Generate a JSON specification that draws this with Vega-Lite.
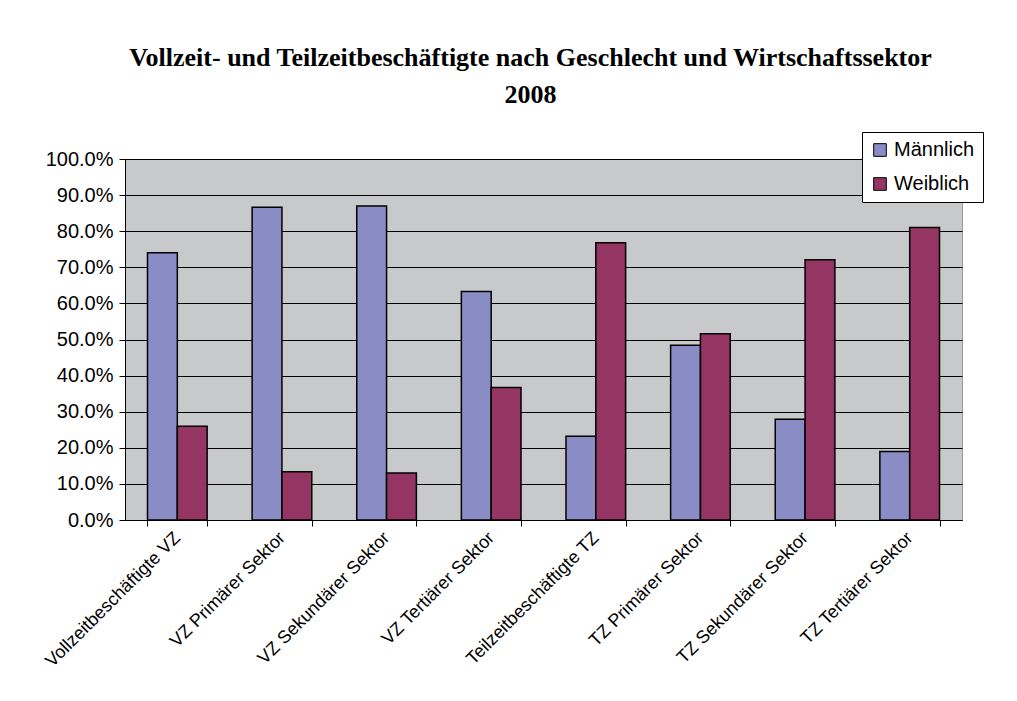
{
  "$schema": "https://vega.github.io/schema/vega-lite/v6.json",
  "width": 837,
  "height": 361,
  "autosize": "none",
  "padding": {"left": 125, "top": 159, "right": 55, "bottom": 181},
  "background": "white",
  "title": {
    "text": ["Vollzeit- und Teilzeitbeschäftigte nach Geschlecht und Wirtschaftssektor", "2008"],
    "font": "Liberation Serif",
    "fontSize": 26,
    "fontWeight": "bold",
    "color": "#000000",
    "lineHeight": 37,
    "anchor": "middle",
    "dx": -13,
    "offset": 24
  },
  "data": {
    "values": [
      {"category": "Vollzeitbeschäftigte VZ", "gender": "Männlich", "value": 0.740},
      {"category": "Vollzeitbeschäftigte VZ", "gender": "Weiblich", "value": 0.260},
      {"category": "VZ Primärer Sektor", "gender": "Männlich", "value": 0.866},
      {"category": "VZ Primärer Sektor", "gender": "Weiblich", "value": 0.134},
      {"category": "VZ Sekundärer Sektor", "gender": "Männlich", "value": 0.870},
      {"category": "VZ Sekundärer Sektor", "gender": "Weiblich", "value": 0.130},
      {"category": "VZ Tertiärer Sektor", "gender": "Männlich", "value": 0.633},
      {"category": "VZ Tertiärer Sektor", "gender": "Weiblich", "value": 0.367},
      {"category": "Teilzeitbeschäftigte TZ", "gender": "Männlich", "value": 0.232},
      {"category": "Teilzeitbeschäftigte TZ", "gender": "Weiblich", "value": 0.768},
      {"category": "TZ Primärer Sektor", "gender": "Männlich", "value": 0.484},
      {"category": "TZ Primärer Sektor", "gender": "Weiblich", "value": 0.516},
      {"category": "TZ Sekundärer Sektor", "gender": "Männlich", "value": 0.279},
      {"category": "TZ Sekundärer Sektor", "gender": "Weiblich", "value": 0.721},
      {"category": "TZ Tertiärer Sektor", "gender": "Männlich", "value": 0.190},
      {"category": "TZ Tertiärer Sektor", "gender": "Weiblich", "value": 0.810}
    ]
  },
  "mark": {"type": "bar", "stroke": "#000000", "strokeWidth": 1.5},
  "encoding": {
    "x": {
      "field": "category",
      "type": "nominal",
      "sort": null,
      "scale": {"paddingInner": 0.43, "paddingOuter": 0.215},
      "axis": {
        "title": null,
        "labelAngle": -45,
        "labelFont": "Liberation Sans",
        "labelFontSize": 18,
        "labelColor": "#000000",
        "labelAlign": "right",
        "labelBaseline": "middle",
        "labelPadding": 9,
        "labelLimit": 300,
        "tickBand": "extent",
        "tickColor": "#000000",
        "tickSize": 6,
        "domainColor": "#000000",
        "grid": false
      }
    },
    "xOffset": {"field": "gender", "type": "nominal", "sort": ["Männlich", "Weiblich"]},
    "y": {
      "field": "value",
      "type": "quantitative",
      "scale": {"domain": [0, 1], "nice": false},
      "axis": {
        "title": null,
        "format": ".1%",
        "values": [0, 0.1, 0.2, 0.3, 0.4, 0.5, 0.6, 0.7, 0.8, 0.9, 1.0],
        "labelFont": "Liberation Sans",
        "labelFontSize": 20,
        "labelColor": "#000000",
        "labelPadding": 6,
        "tickColor": "#000000",
        "tickSize": 6,
        "domainColor": "#000000",
        "gridColor": "#000000",
        "gridWidth": 1
      }
    },
    "color": {
      "field": "gender",
      "type": "nominal",
      "sort": ["Männlich", "Weiblich"],
      "scale": {"domain": ["Männlich", "Weiblich"], "range": ["#8A8CC5", "#943563"]},
      "legend": {
        "title": null,
        "orient": "none",
        "legendX": 737,
        "legendY": -27,
        "symbolType": "square",
        "symbolSize": 160,
        "symbolStrokeColor": "#000000",
        "symbolStrokeWidth": 1,
        "symbolOpacity": 1,
        "labelFont": "Liberation Sans",
        "labelFontSize": 20,
        "labelColor": "#000000",
        "labelOffset": 4,
        "rowPadding": 14,
        "padding": 8,
        "strokeColor": "#000000",
        "fillColor": "#ffffff"
      }
    }
  },
  "config": {
    "view": {"fill": "#C8C9CB", "stroke": "#999999"}
  }
}
